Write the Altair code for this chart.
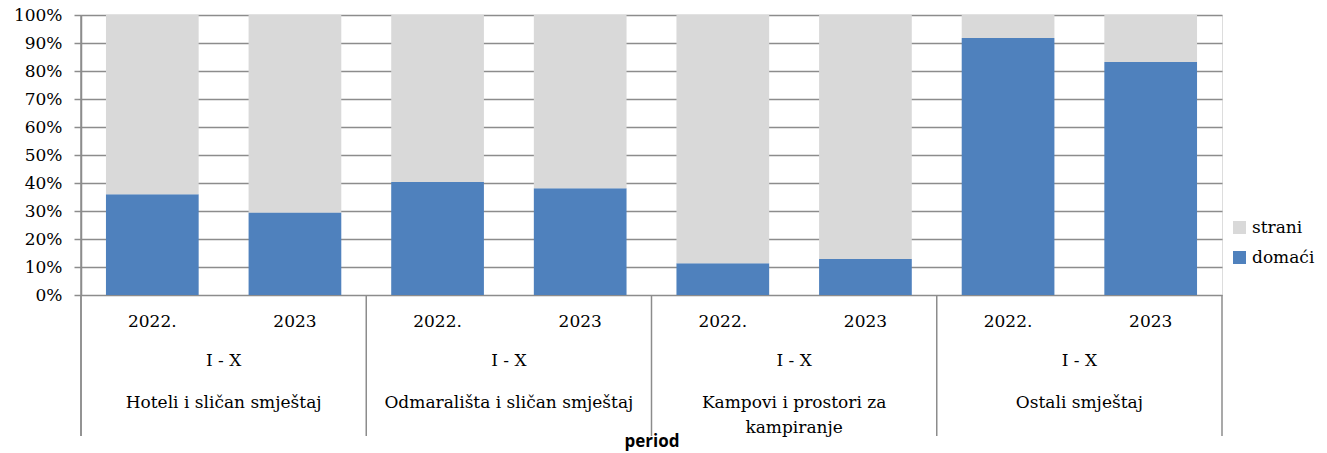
import altair as alt
import pandas as pd

groups = ["Hoteli i sličan smještaj", "Odmarališta i sličan smještaj",
          "Kampovi i prostori za kampiranje", "Ostali smještaj"]
group_line1 = ["Hoteli i sličan smještaj", "Odmarališta i sličan smještaj",
               "Kampovi i prostori za", "Ostali smještaj"]
group_line2 = ["", "", "kampiranje", ""]
years = ["2022.", "2023"]
period_label = "I - X"
series = ["strani", "domaći"]
# share of domestic guests (%), per group and year
domaci = [36.0, 29.5, 40.4, 38.1, 11.3, 12.9, 91.8, 83.2]
# share of foreign guests (%)
strani = [64.0, 70.5, 59.6, 61.9, 88.7, 87.1, 8.2, 16.8]

BLUE = "#4F81BD"
GRAY = "#D9D9D9"
LINE = "#8C8C8C"
SERIF = "DejaVu Serif"

keys = [f"{g}|{y}" for g in groups for y in years]

rows = []
for i, k in enumerate(keys):
    rows.append({"key": k, "series": "domaći", "value": domaci[i] / 100, "ord": 0})
    rows.append({"key": k, "series": "strani", "value": strani[i] / 100, "ord": 1})
bars_df = pd.DataFrame(rows)

year_df = pd.DataFrame({"key": keys, "year": [y for g in groups for y in years]})
first_keys = [f"{g}|{years[0]}" for g in groups]
group_df = pd.DataFrame({"key": first_keys, "period": [period_label] * 4,
                         "l1": group_line1, "l2": group_line2})
last_df = pd.DataFrame({"key": [keys[-1]]})

STEP_HALF = 1141 / 8 / 2

xscale = alt.Scale(domain=keys, paddingInner=0.35, paddingOuter=0.175)

x_enc = alt.X("key:N", sort=keys, scale=xscale,
              axis=alt.Axis(labels=False, ticks=False, domain=False, grid=False,
                            title="period", titleFont="Open Sans", titleFontSize=17,
                            titleFontWeight="bold", titleColor="#000000",
                            titleY=146, titleBaseline="middle"))

bars = alt.Chart(bars_df).mark_bar().encode(
    x=x_enc,
    y=alt.Y("value:Q", stack="zero", scale=alt.Scale(domain=[0, 1]),
            axis=alt.Axis(values=[i / 10 for i in range(11)], format=".0%", title="",
                          labelFont=SERIF, labelFontSize=17, labelColor="#000000",
                          tickSize=7, tickColor=LINE, tickWidth=1.5,
                          domainColor=LINE, domainWidth=1.5,
                          gridColor=LINE, gridWidth=1.5, labelPadding=12)),
    color=alt.Color("series:N", scale=alt.Scale(domain=series, range=[GRAY, BLUE]),
                    legend=alt.Legend(orient="none", legendX=1150, legendY=204, title="",
                                      symbolType="square", symbolSize=169,
                                      symbolStrokeWidth=0, labelFont=SERIF,
                                      labelFontSize=17, labelColor="#000000",
                                      labelOffset=4, rowPadding=12, padding=0)),
    order=alt.Order("ord:Q"),
)

year_text = alt.Chart(year_df).mark_text(font=SERIF, fontSize=17, color="#000000",
                                         baseline="middle").encode(
    x=alt.X("key:N", sort=keys, scale=xscale), y=alt.value(307), text="year:N")

period_text = alt.Chart(group_df).mark_text(font=SERIF, fontSize=17, color="#000000",
                                            baseline="middle", dx=STEP_HALF).encode(
    x=alt.X("key:N", sort=keys, scale=xscale), y=alt.value(346), text="period:N")

l1_text = alt.Chart(group_df).mark_text(font=SERIF, fontSize=17, color="#000000",
                                        baseline="middle", dx=STEP_HALF).encode(
    x=alt.X("key:N", sort=keys, scale=xscale), y=alt.value(388), text="l1:N")

l2_text = alt.Chart(group_df).mark_text(font=SERIF, fontSize=17, color="#000000",
                                        baseline="middle", dx=STEP_HALF).encode(
    x=alt.X("key:N", sort=keys, scale=xscale), y=alt.value(413), text="l2:N")

sep_left = alt.Chart(group_df).mark_rule(color=LINE, strokeWidth=1.5,
                                         xOffset=-STEP_HALF).encode(
    x=alt.X("key:N", sort=keys, scale=xscale), y=alt.value(280), y2=alt.value(421))

sep_first = alt.Chart(group_df.iloc[:1]).mark_rule(color=LINE, strokeWidth=1.5,
                                                   xOffset=-STEP_HALF).encode(
    x=alt.X("key:N", sort=keys, scale=xscale), y=alt.value(0), y2=alt.value(421))

sep_right = alt.Chart(last_df).mark_rule(color=LINE, strokeWidth=1.5,
                                         xOffset=STEP_HALF).encode(
    x=alt.X("key:N", sort=keys, scale=xscale), y=alt.value(280), y2=alt.value(421))

chart = alt.layer(bars, year_text, period_text, l1_text, l2_text,
                  sep_left, sep_first, sep_right).properties(
    width=1141, height=280,
    autosize=alt.AutoSizeParams(type="none"),
    padding={"left": 73, "top": 7, "right": 97, "bottom": 158},
).configure_view(strokeWidth=0).configure(background="#ffffff")

chart.save("out.html", embed_options={"renderer": "svg", "actions": False})
